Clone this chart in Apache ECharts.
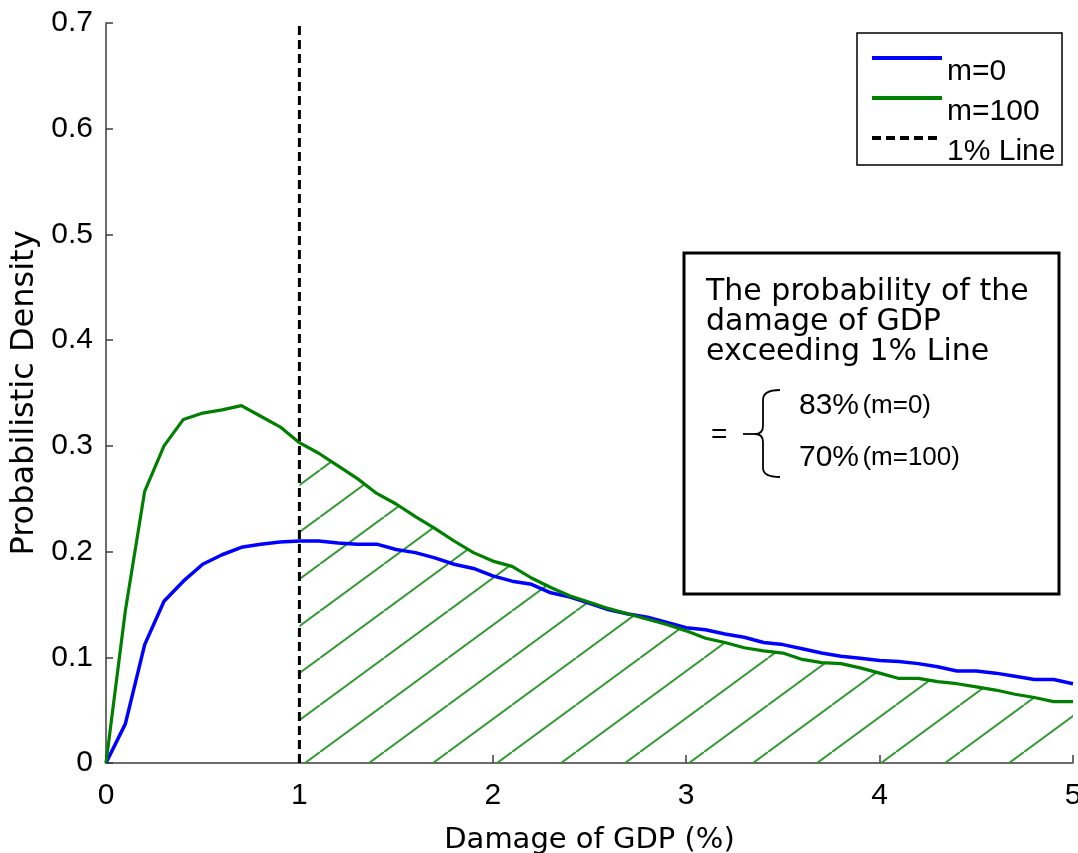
<!DOCTYPE html>
<html>
<head>
<meta charset="utf-8">
<title>Probabilistic Density of GDP Damage</title>
<script src="https://cdn.jsdelivr.net/npm/echarts@6/dist/echarts.min.js"></script>
<style>
  html, body { margin: 0; padding: 0; background: #ffffff; }
  #chart { width: 1078px; height: 853px; }
</style>
</head>
<body>
<div id="chart"></div>
<script>
// Damage of GDP (%) sampled every 0.1
const damage = [
  0.0, 0.1, 0.2, 0.3, 0.4, 0.5, 0.6, 0.7, 0.8, 0.9,
  1.0, 1.1, 1.2, 1.3, 1.4, 1.5, 1.6, 1.7, 1.8, 1.9,
  2.0, 2.1, 2.2, 2.3, 2.4, 2.5, 2.6, 2.7, 2.8, 2.9,
  3.0, 3.1, 3.2, 3.3, 3.4, 3.5, 3.6, 3.7, 3.8, 3.9,
  4.0, 4.1, 4.2, 4.3, 4.4, 4.5, 4.6, 4.7, 4.8, 4.9,
  5.0
];

// Probabilistic density, m = 0
const densityM0 = [
  0.000, 0.037, 0.112, 0.153, 0.172, 0.188, 0.197, 0.204, 0.207, 0.209,
  0.210, 0.210, 0.208, 0.207, 0.207, 0.202, 0.199, 0.194, 0.188, 0.184,
  0.177, 0.172, 0.169, 0.161, 0.157, 0.151, 0.145, 0.141, 0.138, 0.133,
  0.128, 0.126, 0.122, 0.119, 0.114, 0.112, 0.108, 0.104, 0.101, 0.099,
  0.097, 0.096, 0.094, 0.091, 0.087, 0.087, 0.085, 0.082, 0.079, 0.079,
  0.075
];

// Probabilistic density, m = 100
const densityM100 = [
  0.000, 0.144, 0.257, 0.300, 0.325, 0.331, 0.334, 0.338, 0.328, 0.318,
  0.303, 0.293, 0.281, 0.269, 0.255, 0.245, 0.233, 0.222, 0.210, 0.199,
  0.191, 0.186, 0.175, 0.166, 0.158, 0.152, 0.146, 0.141, 0.136, 0.131,
  0.125, 0.118, 0.114, 0.109, 0.106, 0.104, 0.098, 0.095, 0.094, 0.090,
  0.085, 0.080, 0.080, 0.077, 0.075, 0.072, 0.069, 0.065, 0.062, 0.058,
  0.058
];

// Threshold of the 1% line
const threshold = 1;

// Axis tick labels
const xTickLabels = ['0', '1', '2', '3', '4', '5'];
const yTickLabels = ['0', '0.1', '0.2', '0.3', '0.4', '0.5', '0.6', '0.7'];

// Annotation text
const noteLines = ['The probability of the', 'damage of GDP', 'exceeding 1% Line'];
const noteResults = [
  { pct: '83%', tag: '(m=0)' },
  { pct: '70%', tag: '(m=100)' }
];

const pairs = (xs, ys) => xs.map((x, i) => [x, ys[i]]);
const m0Data = pairs(damage, densityM0);
const m100Data = pairs(damage, densityM100);
const exceedData = m100Data.filter(p => p[0] >= threshold);

// Diagonal hatch tile for the exceedance region
function hatchTile() {
  const w = 64, h = 47;
  const c = document.createElement('canvas');
  c.width = w; c.height = h;
  const ctx = c.getContext('2d');
  ctx.strokeStyle = '#359a35';
  ctx.lineWidth = 2;
  [-w, 0, w].forEach(dx => {
    ctx.beginPath();
    ctx.moveTo(dx, h);
    ctx.lineTo(dx + w, 0);
    ctx.stroke();
  });
  return c;
}

const SANS = '"DejaVu Sans", sans-serif';
const NUM = '"Liberation Sans", Arial, sans-serif';
const axisColor = '#3c3c3c';

// Curly brace next to the result lines
const braceStyle = { stroke: '#000', lineWidth: 1.8, fill: 'none' };
const braceParts = [
  { type: 'bezierCurve', shape: { x1: 780, y1: 390, cpx1: 763, cpy1: 390, x2: 763, y2: 400 } },
  { type: 'line', shape: { x1: 763, y1: 400, x2: 763, y2: 426 } },
  { type: 'bezierCurve', shape: { x1: 763, y1: 426, cpx1: 763, cpy1: 434, x2: 755, y2: 434 } },
  { type: 'line', shape: { x1: 755, y1: 434, x2: 743, y2: 434 } },
  { type: 'bezierCurve', shape: { x1: 755, y1: 434, cpx1: 763, cpy1: 434, x2: 763, y2: 442 } },
  { type: 'line', shape: { x1: 763, y1: 442, x2: 763, y2: 468 } },
  { type: 'bezierCurve', shape: { x1: 763, y1: 468, cpx1: 763, cpy1: 477, x2: 780, y2: 477 } }
].map(p => Object.assign({ z: 6, style: braceStyle }, p));

const chart = echarts.init(document.getElementById('chart'), null, { renderer: 'canvas' });

const option = {
  backgroundColor: '#ffffff',
  animation: false,
  grid: { left: 106, right: 5, top: 23, bottom: 90, containLabel: false, outerBoundsMode: 'none' },
  xAxis: {
    type: 'value',
    min: 0, max: 5, interval: 1,
    name: 'Damage of GDP (%)',
    nameLocation: 'middle',
    nameGap: 63,
    nameTextStyle: { fontFamily: SANS, fontSize: 29, color: '#000' },
    axisLine: { show: true, lineStyle: { color: axisColor, width: 1.5 } },
    axisTick: { show: true, inside: true, length: 8, lineStyle: { color: axisColor, width: 1.5 } },
    axisLabel: {
      margin: 18, fontFamily: NUM, fontSize: 30, color: '#000',
      showMinLabel: true, showMaxLabel: true,
      formatter: (v, i) => xTickLabels[i]
    },
    splitLine: { show: false }
  },
  yAxis: {
    type: 'value',
    min: 0, max: 0.7, interval: 0.1,
    name: 'Probabilistic Density',
    nameLocation: 'middle',
    nameGap: 65,
    nameTextStyle: { fontFamily: SANS, fontSize: 32, color: '#000' },
    axisLine: { show: true, lineStyle: { color: axisColor, width: 1.5 } },
    axisTick: { show: true, inside: true, length: 7, lineStyle: { color: axisColor, width: 1.5 } },
    axisLabel: {
      margin: 13, fontFamily: NUM, fontSize: 30, color: '#000',
      formatter: (v, i) => yTickLabels[i]
    },
    splitLine: { show: false }
  },
  legend: {
    orient: 'vertical',
    left: 870,
    top: 29,
    padding: 0,
    itemGap: -18,
    itemWidth: 70,
    itemHeight: 14,
    selectedMode: false,
    data: [
      { name: 'm=0', lineStyle: { width: 4 } },
      { name: 'm=100', lineStyle: { width: 4 } },
      { name: '1% Line', lineStyle: { width: 4 } }
    ],
    itemStyle: { opacity: 0 },
    // label sits a little below its line sample
    formatter: name => '{gap| }\n{t|' + name + '}',
    textStyle: {
      color: '#000',
      rich: {
        gap: { fontSize: 10, lineHeight: 28, height: 28 },
        t: { fontFamily: NUM, fontSize: 30, lineHeight: 30, color: '#000' }
      }
    },
    z: 10
  },
  series: [
    {
      name: 'exceedance',
      type: 'line',
      data: exceedData,
      symbol: 'none',
      lineStyle: { width: 0, opacity: 0 },
      areaStyle: { color: { image: hatchTile(), repeat: 'repeat' }, opacity: 1 },
      silent: true,
      z: 1
    },
    {
      name: 'm=0',
      type: 'line',
      data: m0Data,
      symbol: 'none',
      lineStyle: { color: '#0000ff', width: 3.5 },
      itemStyle: { color: '#0000ff' },
      z: 2
    },
    {
      name: 'm=100',
      type: 'line',
      data: m100Data,
      symbol: 'none',
      lineStyle: { color: '#007f00', width: 3.2 },
      itemStyle: { color: '#007f00' },
      z: 3
    },
    {
      name: '1% Line',
      type: 'line',
      data: [[threshold, 0], [threshold, 0.7]],
      symbol: 'none',
      lineStyle: { color: '#000000', width: 3, type: [9, 5] },
      itemStyle: { color: '#000000' },
      z: 4
    }
  ],
  graphic: [
    // legend frame
    {
      type: 'rect', z: 5,
      shape: { x: 857, y: 33, width: 205, height: 132 },
      style: { fill: '#ffffff', stroke: '#000000', lineWidth: 1.5 }
    },
    // annotation frame
    {
      type: 'rect', z: 5,
      shape: { x: 684, y: 253, width: 375, height: 341 },
      style: { fill: '#ffffff', stroke: '#000000', lineWidth: 3 }
    },
    ...noteLines.map((t, i) => ({
      type: 'text', z: 6,
      x: 706, y: 292 + i * 30,
      style: { text: t, fontFamily: SANS, fontSize: 30, fill: '#000', align: 'left', verticalAlign: 'middle' }
    })),
    {
      type: 'text', z: 6,
      x: 711, y: 435,
      style: { text: '=', fontFamily: NUM, fontSize: 28, fill: '#000', align: 'left', verticalAlign: 'middle' }
    },
    ...braceParts,
    ...noteResults.map((r, i) => ({
      type: 'text', z: 6,
      x: 799, y: 406 + i * 51.5,
      style: {
        text: '{p|' + r.pct + '} {t|' + r.tag + '}',
        rich: {
          p: { fontFamily: NUM, fontSize: 30, fill: '#000' },
          t: { fontFamily: NUM, fontSize: 26, fill: '#000' }
        },
        align: 'left', verticalAlign: 'middle'
      }
    }))
  ]
};

chart.setOption(option);
</script>
</body>
</html>
